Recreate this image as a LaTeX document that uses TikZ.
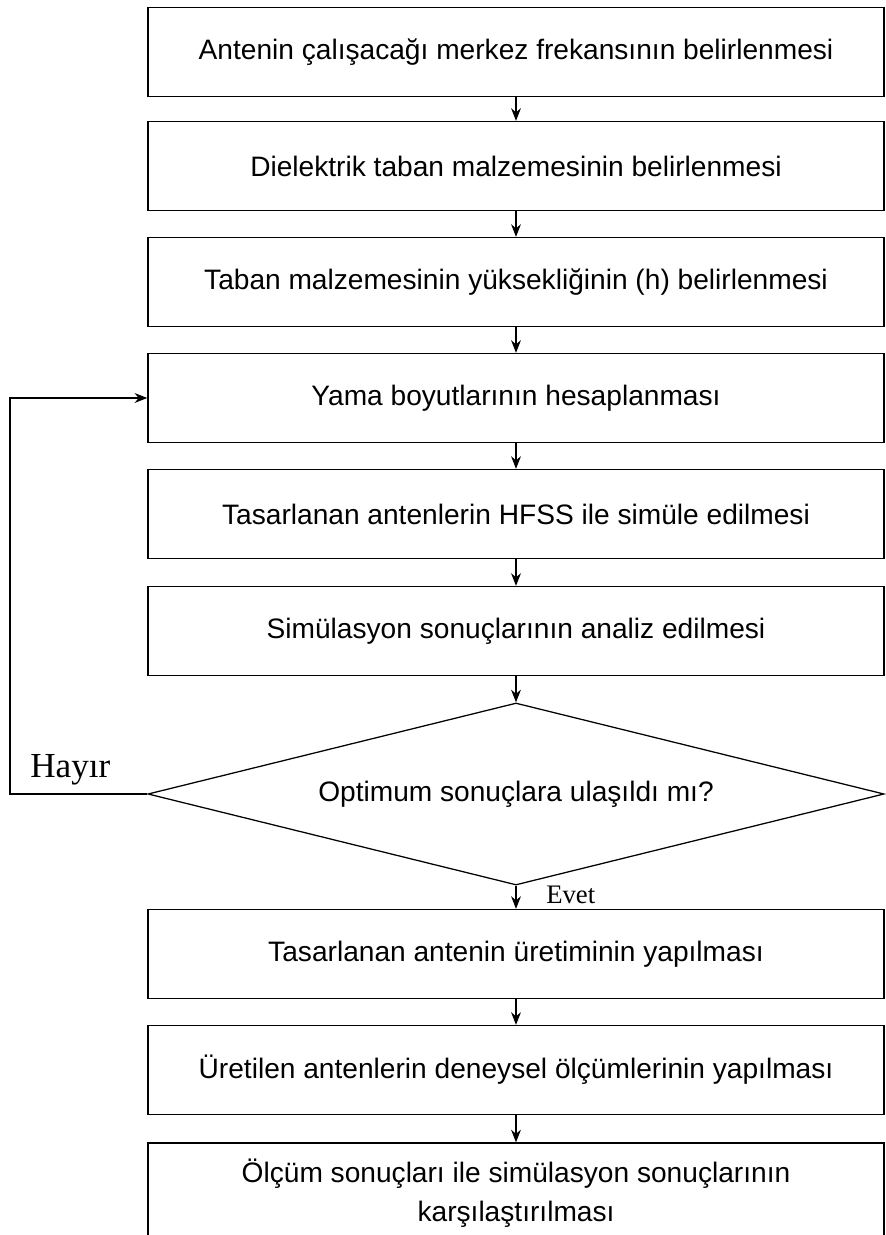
\documentclass[tikz,border=0pt]{standalone}
\usepackage{fontspec}
\setmainfont{Liberation Sans}
\newfontfamily\timesfont{Liberation Serif}
\usetikzlibrary{arrows.meta,shapes.geometric}

\tikzset{
  stepbox/.style={draw, line width=0.9pt, minimum width=18.4cm, minimum height=2.225cm,
    inner sep=0pt, align=center, font=\fontsize{20}{28}\selectfont},
  decision/.style={diamond, draw, line width=0.9pt, aspect=4.04, minimum width=18.4cm, minimum height=4.55cm,
    inner sep=0pt, font=\fontsize{20}{28}\selectfont},
  flow/.style={-{Stealth[length=9pt,width=7pt]}, line width=0.8pt},
  answer/.style={font=\timesfont\fontsize{25}{27}\selectfont, inner sep=0pt}
}

\begin{document}
\begin{tikzpicture}[x=0.025cm,y=-0.025cm]
	\useasboundingbox (0,0) rectangle (886,1235);
	
	\node[stepbox] (freq) at (516,52) {Antenin çalışacağı merkez frekansının belirlenmesi};
	\node[stepbox] (diel) at (516,166) {Dielektrik taban malzemesinin belirlenmesi};
	\node[stepbox] (height) at (516,282) {Taban malzemesinin yüksekliğinin (h) belirlenmesi};
	\node[stepbox] (patch) at (516,398) {Yama boyutlarının hesaplanması};
	\node[stepbox] (sim) at (516,514) {Tasarlanan antenlerin HFSS ile simüle edilmesi};
	\node[stepbox] (anal) at (516,631) {Simülasyon sonuçlarının analiz edilmesi};
	\node[decision] (check) at (516,794) {Optimum sonuçlara ulaşıldı mı?};
	\node[stepbox] (prod) at (516,954) {Tasarlanan antenin üretiminin yapılması};
	\node[stepbox] (meas) at (516,1070) {Üretilen antenlerin deneysel ölçümlerinin yapılması};
	\node[stepbox, minimum height=2.5cm] (comp) at (516,1193) {Ölçüm sonuçları ile simülasyon sonuçlarının\\karşılaştırılması};
	
	\foreach \a/\b in {freq/diel,diel/height,height/patch,patch/sim,sim/anal,anal/check,check/prod,prod/meas,meas/comp}
		\draw[flow] (\a) -- (\b);
	
	% geri besleme
	\coordinate (loop) at (10,794);
	\draw[flow] (check.west) -- (loop) |- (patch.west);
	\node[answer, anchor=south west] (no) at (30,785) {Hayır};
	\node[answer, anchor=west, font=\timesfont\fontsize{19}{21}\selectfont] (yes) at (546,895) {Evet};
\end{tikzpicture}
\end{document}
